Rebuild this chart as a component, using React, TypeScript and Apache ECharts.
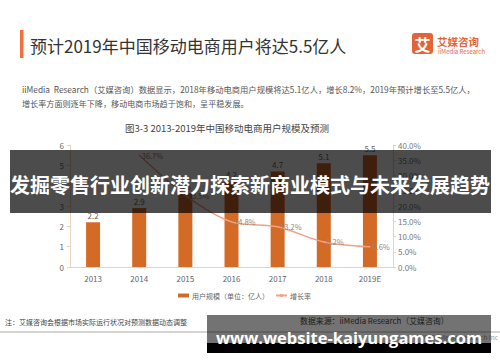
import React, { useEffect, useRef } from "react";
import * as echarts from "echarts";

const categories = ["2013", "2014", "2015", "2016", "2017", "2018", "2019E"];
const users = [2.2, 2.9, 3.6, 4.2, 4.7, 5.1, 5.5];
const growth: (number | null)[] = [null, 36.7, 23.5, 14.8, 13.2, 8.2, 6.6];
const leftTicks = { min: 0, max: 6, interval: 1 };
const rightTicks = { min: 0, max: 40, interval: 5 };

const TITLE = "预计2019年中国移动电商用户将达5.5亿人";
const PARA1 = "iiMedia  Research（艾媒咨询）数据显示，2018年移动电商用户规模将达5.1亿人，增长8.2%，2019年预计增长至5.5亿人，";
const PARA2 = "增长率方面则逐年下降，移动电商市场趋于饱和，呈平稳发展。";
const SUBTITLE = "图3-3 2013-2019年中国移动电商用户规模及预测";
const NOTE = "注：艾媒咨询会根据市场实际运行状况对预测数据动态调整";
const SOURCE = "数据来源：iiMedia Research（艾媒咨询）";
const COPY = "© 2019 iiMedia Research Inc";
const BANNER1 = "发掘零售行业创新潜力探索新商业模式与未来发展趋势";
const BANNER2 = "www.website-kaiyungames.com";
const BAR_NAME = "用户规模（单位：亿人）";
const LINE_NAME = "增长率";

const CJK = '"Noto Sans CJK SC", "Noto Sans", sans-serif';
const ORANGE = "#D36A26";
const SALMON = "#F2A285";
const AXIS = "#E9D2BC";

export default function App() {
  const ref = useRef<HTMLDivElement>(null);
  useEffect(() => {
    document.body.style.margin = "0";
    const chart = echarts.init(ref.current!, null, { renderer: "svg" });
    chart.setOption({
      animation: false,
      backgroundColor: "#ffffff",
      textStyle: { fontFamily: CJK },
      grid: { left: 70, right: 107, top: 145, bottom: 95 },
      legend: {
        left: 173,
        top: 287,
        itemWidth: 11,
        itemHeight: 4,
        itemGap: 6,
        textStyle: { fontSize: 7, color: "#666", fontFamily: CJK, padding: [0, 0, 0, -2] },
        data: [
          { name: BAR_NAME, icon: "rect" },
          { name: LINE_NAME },
        ],
      },
      xAxis: {
        type: "category",
        data: categories,
        axisLine: { lineStyle: { color: AXIS } },
        axisTick: { show: false },
        axisLabel: { fontSize: 8, color: "#666", margin: 7 },
      },
      yAxis: [
        {
          type: "value",
          ...leftTicks,
          axisLine: { show: true, lineStyle: { color: AXIS } },
          axisTick: { show: true, length: 3, lineStyle: { color: AXIS } },
          splitLine: { show: false },
          axisLabel: { fontSize: 8, color: "#666", margin: 6 },
        },
        {
          type: "value",
          ...rightTicks,
          position: "right",
          axisLine: { show: true, lineStyle: { color: AXIS } },
          axisTick: { show: true, length: 3, lineStyle: { color: AXIS } },
          splitLine: { show: false },
          axisLabel: {
            fontSize: 8,
            color: "#777",
            margin: 5,
            formatter: (v: number) => v.toFixed(1) + "%",
          },
        },
      ],
      series: [
        {
          name: BAR_NAME,
          type: "bar",
          data: users,
          barWidth: 14,
          itemStyle: { color: ORANGE },
          label: { show: true, position: "top", distance: 3, fontSize: 8, color: "#666" },
        },
        {
          name: LINE_NAME,
          type: "line",
          yAxisIndex: 1,
          data: growth,
          smooth: 0.3,
          symbol: "circle",
          symbolSize: 1,
          itemStyle: { color: SALMON },
          lineStyle: { color: SALMON, width: 1.5 },
          label: {
            show: true,
            position: "right",
            distance: 2,
            fontSize: 7.5,
            color: "#888",
            formatter: (p: any) => p.value + "%",
          },
        },
      ],
      graphic: [
        { type: "rect", shape: { x: 20, y: 30, width: 3.5, height: 28 }, style: { fill: "#F0703A" } },
        {
          type: "text", x: 30, y: 45,
          style: { text: TITLE, font: `17px ${CJK}`, fill: "#333", verticalAlign: "middle" },
        },
        { type: "rect", shape: { x: 412, y: 33, width: 21, height: 21, r: 3 }, style: { fill: "#E4643A" } },
        {
          type: "text", x: 422.5, y: 44,
          style: { text: "艾", font: `bold 16px ${CJK}`, fill: "#fff", align: "center", verticalAlign: "middle" },
        },
        {
          type: "text", x: 437, y: 41,
          style: { text: "艾媒咨询", font: `bold 10.5px ${CJK}`, fill: "#E4643A", verticalAlign: "middle" },
        },
        {
          type: "text", x: 438, y: 51,
          style: { text: "iiMedia Research", font: `6px ${CJK}`, fill: "#E4643A", verticalAlign: "middle" },
        },
        {
          type: "text", x: 22, y: 89,
          style: { text: PARA1, font: `8.3px ${CJK}`, fill: "#555", verticalAlign: "middle" },
        },
        {
          type: "text", x: 22, y: 103,
          style: { text: PARA2, font: `8.1px ${CJK}`, fill: "#555", verticalAlign: "middle" },
        },
        {
          type: "text", x: 227, y: 128,
          style: { text: SUBTITLE, font: `9.5px ${CJK}`, fill: "#444", align: "center", verticalAlign: "middle" },
        },
        {
          type: "text", x: 5, y: 322,
          style: { text: NOTE, font: `7px ${CJK}`, fill: "#444", verticalAlign: "middle" },
        },
        {
          type: "text", x: 300, y: 320,
          style: { text: SOURCE, font: `7.9px ${CJK}`, fill: "#444", verticalAlign: "middle" },
        },
        { type: "line", shape: { x1: 0, y1: 332, x2: 500, y2: 332 }, style: { stroke: "#aaa", lineWidth: 1 } },
        {
          type: "text", x: 498, y: 337,
          style: { text: COPY, font: `6.5px ${CJK}`, fill: "#999", align: "right", verticalAlign: "middle" },
        },
        // overlay banners
        { type: "rect", z: 100, shape: { x: 10, y: 150, width: 481, height: 63 }, style: { fill: "rgba(0,0,0,0.7)" } },
        {
          type: "text", z: 101, x: 250, y: 184,
          style: { text: BANNER1, font: `bold 20px ${CJK}`, fill: "#fff", align: "center", verticalAlign: "middle" },
        },
        { type: "rect", z: 100, shape: { x: 207, y: 315, width: 284, height: 38 }, style: { fill: "rgba(0,0,0,0.55)" } },
        { type: "rect", z: 100, shape: { x: 207, y: 343, width: 284, height: 10 }, style: { fill: "#000" } },
        {
          type: "text", z: 101, x: 349, y: 337,
          style: { text: BANNER2, font: `bold 16.5px "Open Sans", sans-serif`, fill: "#fff", align: "center", verticalAlign: "middle" },
        },
      ],
    });
    return () => chart.dispose();
  }, []);
  return <div ref={ref} style={{ width: 500, height: 362 }} />;
}
